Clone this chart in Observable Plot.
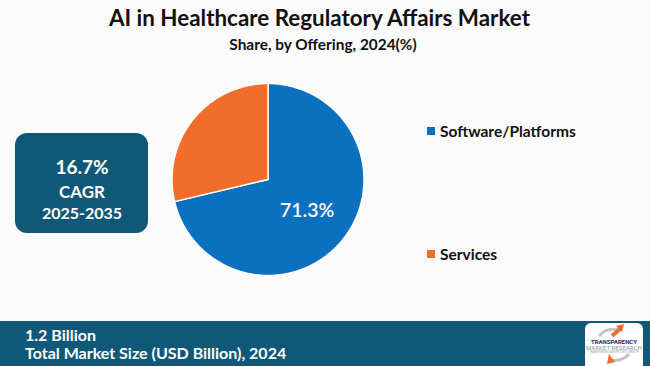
<!DOCTYPE html>
<html>
<head>
<meta charset="utf-8">
<script src="https://cdn.jsdelivr.net/npm/d3@7"></script>
<script src="https://cdn.jsdelivr.net/npm/@observablehq/plot@0.6"></script>
<style>
  body { margin: 0; background: #fbfbfb; }
  #wrap { position: relative; width: 650px; height: 366px; overflow: hidden; background: #fbfbfb; font-family: Lato, "Open Sans", sans-serif; }
  #chart { position: absolute; left: 0; top: 0; }
  .abs { position: absolute; line-height: 1; white-space: nowrap; }
  #title { left: 0; width: 639px; top: 7px; text-align: center; font-size: 22.4px; font-weight: 700; color: #111; }
  #subtitle { left: 0; width: 646px; top: 36.5px; text-align: center; font-size: 15.4px; font-weight: 700; color: #111; }
  #box { position: absolute; left: 15px; top: 133px; width: 133px; height: 100px; border-radius: 12px; background: #0f5878; }
  .boxtxt { position: absolute; left: 15px; width: 134px; text-align: center; color: #fff; font-weight: 700; line-height: 1; }
  #bar { position: absolute; left: 0; top: 321px; width: 650px; height: 45px; background: #0f5878; }
  .bartxt { position: absolute; left: 25px; color: #fff; font-weight: 700; font-size: 16px; line-height: 1; white-space: nowrap; }
  .leg { position: absolute; left: 427px; font-size: 15.5px; font-weight: 700; color: #111; line-height: 1; white-space: nowrap; }
  .sw { position: absolute; width: 8px; height: 8px; }
  #logo { position: absolute; left: 585px; top: 323px; width: 58px; height: 50px; background: #fff; border-radius: 6px; }
  .logotxt { position: absolute; left: 0; width: 58px; text-align: center; white-space: nowrap; line-height: 1; }
</style>
</head>
<body>
<div id="wrap">
  <div id="title" class="abs"></div>
  <div id="subtitle" class="abs"></div>
  <div id="box"></div>
  <div id="bar"></div>
  <div id="logo">
    <svg width="58" height="43" style="position:absolute;left:0;top:0">
      <path d="M14 13 Q22 4 33 7" fill="none" stroke="#c4c4c4" stroke-width="3"/>
      <path d="M27 13 L36 5" stroke="#f26c2c" stroke-width="4"/>
      <polygon points="31,3 39,1 37,9" fill="#f26c2c"/>
      <path d="M44 31 Q37 39 26 37" fill="none" stroke="#c4c4c4" stroke-width="3"/>
      <polygon points="24,31 22,41 30,39" fill="#f26c2c"/>
    </svg>
    <div class="logotxt" style="top:15px;font:700 6px Roboto,sans-serif;color:#1b2f5a;">TRANSPARENCY</div>
    <div class="logotxt" style="top:22px;font:400 5.8px Roboto,sans-serif;color:#7f93a3;letter-spacing:0.2px;">MARKET RESEARCH</div>
    <div class="logotxt" style="top:28px;font:400 2.6px Roboto,sans-serif;color:#999;">TRANSFORMING INSIGHTS INTO GROWTH</div>
  </div>
</div>
<script>
// ---- data ----
const titleText = "AI in Healthcare Regulatory Affairs Market";
const subtitleText = "Share, by Offering, 2024(%)";
const categories = ["Software/Platforms", "Services"];
const shares = [71.3, 28.7];
const shareLabels = ["71.3%", ""];
const colors = ["#0a70c0", "#f26c2c"];
const cagrValue = "16.7%";
const cagrLabel = "CAGR";
const cagrPeriod = "2025-2035";
const marketSize = "1.2 Billion";
const marketLabel = "Total Market Size (USD Billion), 2024";

// ---- text ----
document.getElementById("title").textContent = titleText;
document.getElementById("subtitle").textContent = subtitleText;
const wrap = document.getElementById("wrap");
function addDiv(cls, text, style) {
  const d = document.createElement("div");
  d.className = cls;
  d.textContent = text;
  Object.assign(d.style, style);
  wrap.appendChild(d);
  return d;
}
addDiv("boxtxt", cagrValue, {top: "157px", fontSize: "19px"});
addDiv("boxtxt", cagrLabel, {top: "183px", fontSize: "17px"});
addDiv("boxtxt", cagrPeriod, {top: "205px", fontSize: "16px"});
addDiv("bartxt", marketSize, {top: "327px"});
addDiv("bartxt", marketLabel, {top: "345px"});

// legend
const legendTops = [127, 250];
categories.forEach((c, i) => {
  const sw = document.createElement("div");
  sw.className = "sw";
  Object.assign(sw.style, {left: "427px", top: legendTops[i] + "px", background: colors[i]});
  wrap.appendChild(sw);
  addDiv("leg", c, {left: "440px", top: (legendTops[i] - 3.5) + "px"});
});

// ---- pie ----
const data = categories.map((c, i) => ({name: c, share: shares[i], label: shareLabels[i]}));
const arcs = d3.pie().sort(null).value(d => d.share)(data);
const outline = arcs.flatMap(a => {
  const n = Math.max(2, Math.ceil((a.endAngle - a.startAngle) / (Math.PI / 360)));
  const pts = [{name: a.data.name, x: 0, y: 0}];
  for (let k = 0; k <= n; k++) {
    const t = a.startAngle + (a.endAngle - a.startAngle) * k / n;
    pts.push({name: a.data.name, x: Math.sin(t), y: Math.cos(t)});
  }
  pts.push({name: a.data.name, x: 0, y: 0});
  return pts;
});
const labels = arcs.filter(a => a.data.label).map(a => {
  const m = (a.startAngle + a.endAngle) / 2;
  return {x: 0.52 * Math.sin(m), y: 0.52 * Math.cos(m), text: a.data.label};
});

const chart = Plot.plot({
  width: 650,
  height: 366,
  marginLeft: 171.5,
  marginRight: 286.5,
  marginTop: 83,
  marginBottom: 91,
  x: {domain: [-1, 1], axis: null},
  y: {domain: [-1, 1], axis: null},
  color: {domain: categories, range: colors},
  style: {background: "transparent", overflow: "visible"},
  marks: [
    Plot.line(outline, {x: "x", y: "y", z: "name", fill: "name", stroke: "white", strokeWidth: 1.5, strokeLinejoin: "round", curve: "linear"}),
    Plot.text(labels, {x: "x", y: "y", text: "text", fill: "white", fontSize: 19.5, fontWeight: 600, fontFamily: "Lato"})
  ]
});
chart.id = "chart";
wrap.insertBefore(chart, wrap.firstChild);
</script>
</body>
</html>
